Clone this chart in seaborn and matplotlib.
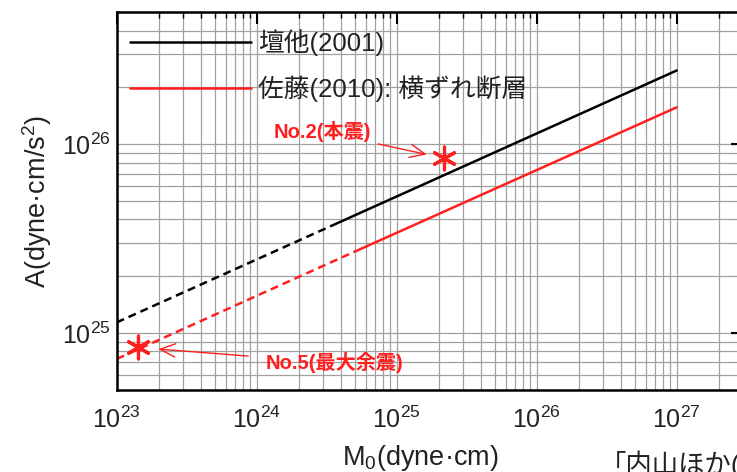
import matplotlib
matplotlib.use("Agg")
import matplotlib.pyplot as plt
from matplotlib import ticker
import seaborn as sns

# ---- データ ----
# 壇他(2001): 破線区間と実線区間
dan_M0_dash = [1e23, 3.5e24]
dan_A_dash = [1.14e25, 3.73e25]
dan_M0 = [3.5e24, 1e27]
dan_A = [3.73e25, 2.46e26]

# 佐藤(2010): 横ずれ断層
sato_M0_dash = [1e23, 5e24]
sato_A_dash = [7.3e24, 2.7e25]
sato_M0 = [5e24, 1e27]
sato_A = [2.7e25, 1.57e26]

# 観測値
eq_names = ['No.2(本震)', 'No.5(最大余震)']
eq_M0 = [2.19e25, 1.41e23]
eq_A = [8.44e25, 8.4e24]

labels = ['壇他(2001)', '佐藤(2010): 横ずれ断層']

# ---- スタイル ----
sns.set_style("white")
plt.rcParams['font.family'] = ['Liberation Sans', 'Noto Sans CJK JP']
plt.rcParams['mathtext.fontset'] = 'custom'
plt.rcParams['mathtext.rm'] = 'Liberation Sans'
plt.rcParams['mathtext.it'] = 'Liberation Sans:italic'
plt.rcParams['mathtext.bf'] = 'Liberation Sans:bold'

RED = '#ff1f1f'
TXT = '#222222'

fig = plt.figure(figsize=(7.37, 4.72), dpi=100)
ax = fig.add_axes([0.1583, 0.1737, 0.8505, 0.8002])
ax.set_xscale('log')
ax.set_yscale('log')

sns.lineplot(x=dan_M0_dash, y=dan_A_dash, ax=ax, color='black', lw=1.8,
             linestyle=(0, (3.2, 2.0)))
sns.lineplot(x=dan_M0, y=dan_A, ax=ax, color='black', lw=1.8, label=labels[0])
sns.lineplot(x=sato_M0_dash, y=sato_A_dash, ax=ax, color=RED, lw=1.8,
             linestyle=(0, (3.2, 2.0)))
sns.lineplot(x=sato_M0, y=sato_A, ax=ax, color=RED, lw=1.8, label=labels[1])

sns.scatterplot(x=eq_M0, y=eq_A, ax=ax, marker=(6, 2, 0), s=270,
                color=RED, linewidth=2.3, zorder=5, legend=False)

# 注記
offsets = [(-53, 19), (92, -11)]
aligns = ['right', 'left']
shrinks = [(3, 13), (10, 15)]
for name, mx, my, off, ha, sh in zip(eq_names, eq_M0, eq_A, offsets, aligns, shrinks):
    ax.annotate(name, xy=(mx, my), xytext=off, textcoords='offset points',
                ha=ha, va='center', color=RED, fontsize=14.5, fontweight='bold',
                arrowprops=dict(arrowstyle='->,head_length=0.75,head_width=0.33',
                                color=RED, lw=1.0, shrinkA=sh[0], shrinkB=sh[1]))

ax.set_xlim(1e23, 3e27)
ax.set_ylim(5e24, 5e26)

ax.xaxis.set_major_locator(ticker.LogLocator(base=10, numticks=10))
ax.xaxis.set_minor_locator(ticker.LogLocator(base=10, subs=range(2, 10), numticks=20))
ax.yaxis.set_minor_locator(ticker.LogLocator(base=10, subs=range(2, 10), numticks=20))
ax.xaxis.set_minor_formatter(ticker.NullFormatter())
ax.yaxis.set_minor_formatter(ticker.NullFormatter())

ax.grid(True, which='both', color='#a0a0a0', linewidth=0.9)
ax.set_axisbelow(True)

for sp in ax.spines.values():
    sp.set_linewidth(1.8)
    sp.set_color('black')

ax.tick_params(which='both', direction='in', top=True, right=True, colors='black',
               labelcolor=TXT, labelsize=18)
ax.tick_params(which='major', length=8.5, width=1.5)
ax.tick_params(which='minor', length=4.3, width=1.0)
ax.tick_params(axis='x', which='major', pad=12)
ax.tick_params(axis='y', which='major', pad=4.5)

ax.set_xlabel('M$_0$(dyne·cm)', fontsize=19.5, color=TXT, va='top')
ax.set_ylabel('A(dyne·cm/s$^2$)', fontsize=19.5, color=TXT)
ax.xaxis.set_label_coords(0.484, -0.141)
ax.yaxis.set_label_coords(-0.1, 0.5)

ax.legend(loc='upper left', bbox_to_anchor=(0.0212, 0.956), frameon=False,
          fontsize=18.5, handlelength=4.7, handletextpad=0.3, labelspacing=0.75,
          borderaxespad=0, borderpad=0, labelcolor=TXT)

fig.text(600 / 737, 1 - 451 / 472, '「内山ほか(2014)」', ha='left', va='top',
         fontsize=19, color=TXT)

fig.savefig('out.png', dpi=100)
